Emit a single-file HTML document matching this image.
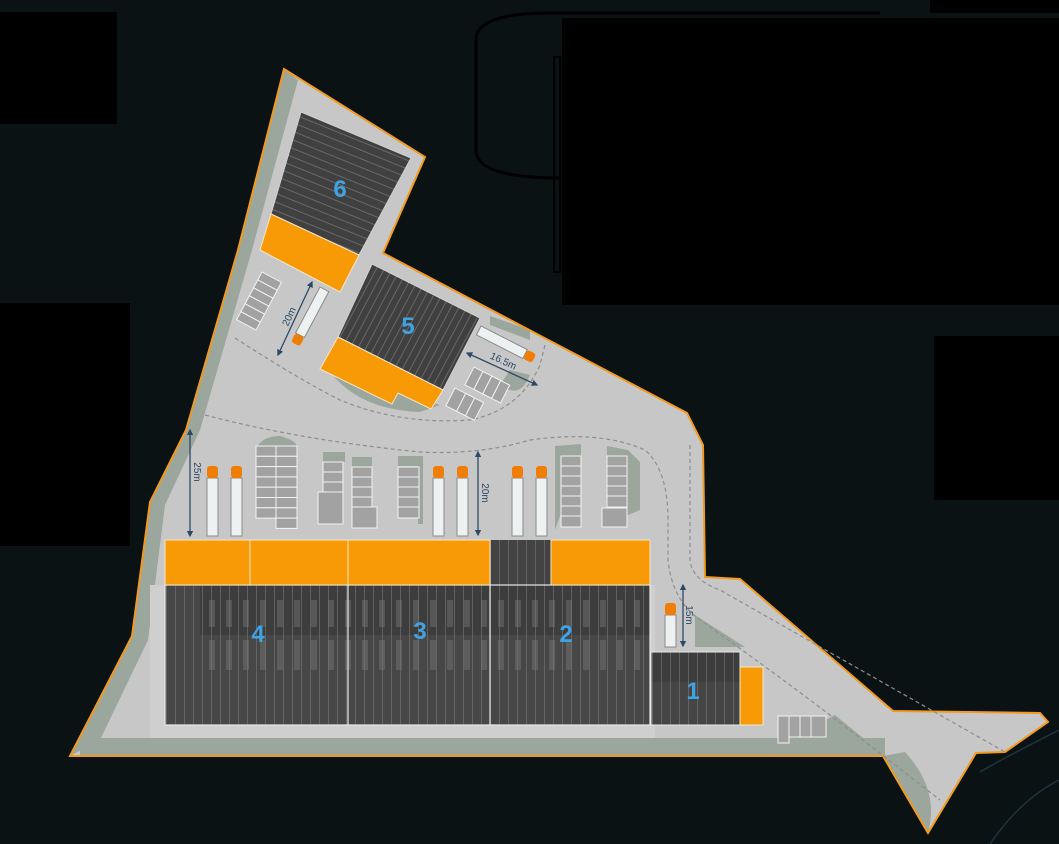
<!DOCTYPE html>
<html><head><meta charset="utf-8"><style>
html,body{margin:0;padding:0;background:#0a1213;}
svg{display:block}
text{font-family:"Liberation Sans","DejaVu Sans",sans-serif}
</style></head><body>
<svg width="1059" height="844" viewBox="0 0 1059 844" xmlns="http://www.w3.org/2000/svg">
<defs>
<pattern id="vs" width="9" height="10" patternUnits="userSpaceOnUse">
<rect width="9" height="10" fill="none"/><line x1="4.5" y1="0" x2="4.5" y2="10" stroke="#777" stroke-width="1" opacity=".6"/>
</pattern>
<pattern id="s6" width="8" height="10" patternUnits="userSpaceOnUse" patternTransform="rotate(112)">
<line x1="4" y1="0" x2="4" y2="10" stroke="#888" stroke-width="1" opacity=".55"/>
</pattern>
<pattern id="s5" width="7" height="10" patternUnits="userSpaceOnUse" patternTransform="rotate(28)">
<line x1="3.5" y1="0" x2="3.5" y2="10" stroke="#888" stroke-width="1" opacity=".55"/>
</pattern>
<pattern id="blk" width="17" height="40" patternUnits="userSpaceOnUse">
<rect x="5" y="0" width="6" height="30" fill="#777" opacity=".45"/>
</pattern>
<marker id="ar" viewBox="0 0 10 10" refX="8" refY="5" markerWidth="5" markerHeight="5" orient="auto-start-reverse"><path d="M0,0L10,5L0,10z" fill="#2c4a66"/></marker>
</defs>
<rect width="1059" height="844" fill="#0a1213"/>
<rect x="0" y="12" width="117" height="112" fill="#000"/>
<rect x="0" y="303" width="130" height="243" fill="#000"/>
<rect x="934" y="336" width="125" height="164" fill="#000"/>
<rect x="930" y="0" width="129" height="13" fill="#000"/>
<path d="M880,13 L550,13 Q476,13 476,40 L476,150 Q476,178 560,178" fill="none" stroke="#000" stroke-width="3"/>
<rect x="554" y="57" width="6" height="215" fill="none" stroke="#000" stroke-width="2"/>
<rect x="562" y="18" width="497" height="287" fill="#000"/>
<path d="M980,772 Q1000,760 1059,730 M990,844 Q1020,800 1059,780" fill="none" stroke="#1d3440" stroke-width="1.5"/>

<polygon points="284,69 425,157 383,253 687,413 703,445 705,577 740,579 893,711 1040,713 1048,722 1005,752 976,753 928,833 883,756 70,756 132,636 150,502 186,430 238,250" fill="#c7c7c7"/>
<polygon points="284,69 298,80 252,250 200,430 165,505 148,640 100,740 70,756 132,636 150,502 186,430 238,250" fill="#9ba69c"/>
<rect x="80" y="738" width="805" height="18" fill="#9ba69c"/>
<polygon points="790,738 835,715 885,756 860,756" fill="#9ba69c"/>
<path d="M883,756 L928,833 Q940,790 905,752 Z" fill="#9ba69c"/>
<polygon points="695,615 745,647 695,647" fill="#9ba69c"/>
<path d="M330,372 Q360,410 420,412 L440,405 Z" fill="#9ba69c"/>
<path d="M500,385 Q520,400 530,375 L510,370 Z" fill="#9ba69c"/>
<polygon points="490,316 530,330 530,340 490,325" fill="#9ba69c"/>
<path d="M257,448 Q262,436 280,436 Q295,440 297,446 Z" fill="#9ba69c"/>
<rect x="323" y="452" width="22" height="10" fill="#9ba69c"/>
<rect x="352" y="457" width="20" height="10" fill="#9ba69c"/>
<rect x="398" y="456" width="24" height="10" fill="#9ba69c"/><rect x="418" y="456" width="5" height="68" fill="#9ba69c"/>
<polygon points="555,446 581,444 581,456 555,530" fill="#9ba69c"/>
<polygon points="607,446 628,450 640,462 640,510 628,515 607,515" fill="#9ba69c"/>
<rect x="150" y="585" width="505" height="153" fill="#cfcfcf"/>
<polygon points="284,69 425,157 383,253 687,413 703,445 705,577 740,579 893,711 1040,713 1048,722 1005,752 976,753 928,833 883,756 70,756 132,636 150,502 186,430 238,250" fill="none" stroke="#f39a1e" stroke-width="2"/>

<g fill="none" stroke="#8e8e8e" stroke-width="1.2" stroke-dasharray="4,3">
<path d="M205,415 Q300,440 420,452 Q480,455 530,440 Q600,430 645,450 Q668,470 668,520 L668,560 Q672,600 700,620 Q800,690 940,800"/>
<path d="M690,445 L690,560 Q692,580 720,590 L1005,752"/>
<path d="M235,338 Q300,380 340,400 Q400,425 470,420 Q520,410 540,365 L545,345"/>
</g>

<rect x="165" y="585" width="485" height="140" fill="#474747"/>
<rect x="490" y="540" width="61" height="45" fill="#434343"/>
<rect x="200" y="585" width="450" height="50" fill="#3d3d3d"/>
<rect x="165" y="585" width="485" height="140" fill="url(#vs)"/>
<rect x="490" y="540" width="61" height="45" fill="url(#vs)"/>
<rect x="205" y="597" width="440" height="30" fill="url(#blk)"/>
<rect x="205" y="640" width="440" height="30" fill="url(#blk)"/>
<g fill="none" stroke="#e8e8e8" stroke-width="1.2">
<rect x="165" y="585" width="485" height="140"/>
<line x1="348" y1="585" x2="348" y2="725"/><line x1="490" y1="540" x2="490" y2="725"/>
</g>
<g fill="#f89a05" stroke="#f6e6c8" stroke-width="1">
<rect x="165" y="540" width="85" height="45"/><rect x="250" y="540" width="98" height="45"/>
<rect x="348" y="540" width="142" height="45"/><rect x="551" y="540" width="99" height="45"/>
</g>
<rect x="651" y="652" width="89" height="73" fill="#454545"/>
<rect x="651" y="652" width="89" height="30" fill="#3d3d3d"/>
<rect x="651" y="652" width="89" height="73" fill="url(#vs)" stroke="#e8e8e8"/>
<rect x="740" y="667" width="23" height="58" fill="#f89a05" stroke="#f6e6c8"/>
<polygon points="301,112 411,158 359,255 271,214" fill="#404040"/>
<polygon points="301,112 411,158 359,255 271,214" fill="url(#s6)" stroke="#d0d0d0" stroke-width="1"/>
<polygon points="271,214 359,255 340,292 260,250" fill="#f89a05" stroke="#f6e6c8"/>
<polygon points="372,264 480,318 443,390 338,337" fill="#404040"/>
<polygon points="372,264 480,318 443,390 338,337" fill="url(#s5)" stroke="#d0d0d0" stroke-width="1"/>
<polygon points="338,337 443,390 431,409 398,393 392,404 320,369" fill="#f89a05" stroke="#f6e6c8"/>

<g fill="#a2a2a2" stroke="#f2f2f2" stroke-width="1">
<rect x="256" y="446" width="20" height="10.3"/><rect x="256" y="456.3" width="20" height="10.3"/><rect x="256" y="466.6" width="20" height="10.3"/><rect x="256" y="476.9" width="20" height="10.3"/><rect x="256" y="487.2" width="20" height="10.3"/><rect x="256" y="497.5" width="20" height="10.3"/><rect x="256" y="507.8" width="20" height="10.3"/>
<rect x="276" y="446" width="21" height="10.3"/><rect x="276" y="456.3" width="21" height="10.3"/><rect x="276" y="466.6" width="21" height="10.3"/><rect x="276" y="476.9" width="21" height="10.3"/><rect x="276" y="487.2" width="21" height="10.3"/><rect x="276" y="497.5" width="21" height="10.3"/><rect x="276" y="507.8" width="21" height="10.3"/><rect x="276" y="518.1" width="21" height="10.3"/>
<rect x="323" y="462" width="20" height="10"/><rect x="323" y="472" width="20" height="10"/><rect x="323" y="482" width="20" height="10"/><rect x="318" y="492" width="25" height="32"/>
<rect x="352" y="467" width="20" height="10"/><rect x="352" y="477" width="20" height="10"/><rect x="352" y="487" width="20" height="10"/><rect x="352" y="497" width="20" height="10"/><rect x="352" y="507" width="25" height="21"/>
<rect x="398" y="467" width="21" height="10"/><rect x="398" y="477" width="21" height="10"/><rect x="398" y="487" width="21" height="10"/><rect x="398" y="497" width="21" height="10"/><rect x="398" y="507" width="21" height="11"/>
<rect x="561" y="456" width="20" height="10"/><rect x="561" y="466" width="20" height="10"/><rect x="561" y="476" width="20" height="10"/><rect x="561" y="486" width="20" height="10"/><rect x="561" y="496" width="20" height="10"/><rect x="561" y="506" width="20" height="10"/><rect x="561" y="516" width="20" height="11"/>
<rect x="607" y="456" width="20" height="10"/><rect x="607" y="466" width="20" height="10"/><rect x="607" y="476" width="20" height="10"/><rect x="607" y="486" width="20" height="10"/><rect x="607" y="496" width="20" height="11"/><rect x="602" y="508" width="25" height="19"/>
<rect x="778" y="716" width="11" height="27"/><rect x="789" y="716" width="11" height="21"/><rect x="800" y="716" width="11" height="21"/><rect x="811" y="716" width="15" height="21"/>
<g transform="translate(262,272) rotate(28)"><rect x="0" y="0" width="22" height="9"/><rect x="0" y="9" width="22" height="9"/><rect x="0" y="18" width="22" height="9"/><rect x="0" y="27" width="22" height="9"/><rect x="0" y="36" width="22" height="9"/><rect x="0" y="45" width="22" height="9"/></g>
<g transform="translate(474,367) rotate(27)"><rect x="0" y="0" width="10" height="20"/><rect x="10" y="0" width="10" height="20"/><rect x="20" y="0" width="10" height="20"/><rect x="30" y="0" width="10" height="20"/></g>
<g transform="translate(455,388) rotate(27)"><rect x="0" y="0" width="12" height="20"/><rect x="12" y="0" width="10" height="20"/><rect x="22" y="0" width="10" height="20"/></g>
</g>

<g stroke="#8a8a8a" stroke-width="1">
<g fill="#eef1f1"><rect x="207" y="478" width="11" height="58"/><rect x="231" y="478" width="11" height="58"/><rect x="433" y="478" width="11" height="58"/><rect x="457" y="478" width="11" height="58"/><rect x="512" y="478" width="11" height="58"/><rect x="536" y="478" width="11" height="58"/><rect x="665" y="615" width="11" height="32"/></g>
<g fill="#f07d05" stroke="none"><rect x="207" y="466" width="11" height="12" rx="3"/><rect x="231" y="466" width="11" height="12" rx="3"/><rect x="433" y="466" width="11" height="12" rx="3"/><rect x="457" y="466" width="11" height="12" rx="3"/><rect x="512" y="466" width="11" height="12" rx="3"/><rect x="536" y="466" width="11" height="12" rx="3"/><rect x="665" y="603" width="11" height="12" rx="3"/></g>
<g transform="translate(320,287) rotate(28)"><rect x="0" y="0" width="10" height="52" fill="#eef1f1"/><rect x="0" y="52" width="10" height="10" rx="3" fill="#f07d05" stroke="none"/></g>
<g transform="translate(481,326) rotate(27)"><rect x="0" y="0" width="52" height="10" fill="#eef1f1"/><rect x="52" y="0" width="10" height="10" rx="3" fill="#f07d05" stroke="none"/></g>
</g>

<g stroke="#2c4a66" stroke-width="1.3" marker-start="url(#ar)" marker-end="url(#ar)">
<line x1="190" y1="430" x2="190" y2="536"/>
<line x1="478" y1="452" x2="478" y2="535"/>
<line x1="683" y1="585" x2="683" y2="646"/>
<line x1="312" y1="282" x2="278" y2="355"/>
<line x1="467" y1="353" x2="537" y2="385"/>
</g>
<g fill="#2c4a66" font-size="10">
<text transform="translate(194,472) rotate(90)" text-anchor="middle">25m</text>
<text transform="translate(482,493) rotate(90)" text-anchor="middle">20m</text>
<text transform="translate(686,615) rotate(90)" text-anchor="middle">15m</text>
<text transform="translate(292,318) rotate(-65)" text-anchor="middle">20m</text>
<text transform="translate(502,364) rotate(25)" text-anchor="middle">16.5m</text>
</g>

<g fill="#3fa3e3" font-size="24" font-weight="bold" text-anchor="middle">
<text x="340" y="197">6</text><text x="408" y="334">5</text>
<text x="258" y="642">4</text><text x="420" y="639">3</text>
<text x="566" y="642">2</text><text x="693" y="699">1</text>
</g>
</svg>
</body></html>
